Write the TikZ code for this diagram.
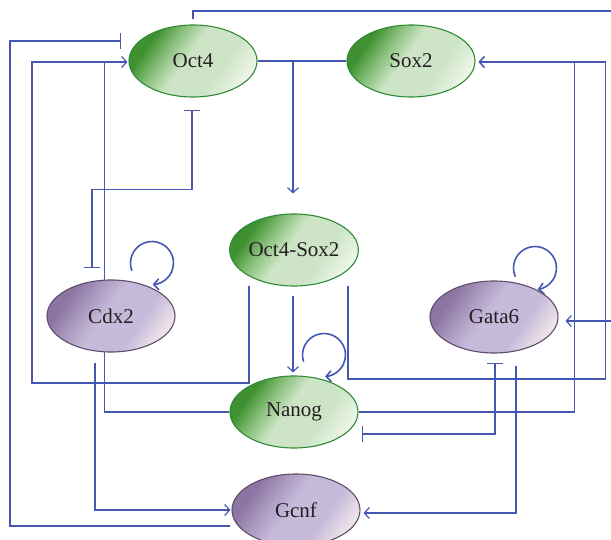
\documentclass[tikz,border=0pt]{standalone}
\usepackage{fontspec}
\setmainfont{Liberation Serif}
\usetikzlibrary{arrows.meta,calc,shapes.geometric,backgrounds}
\definecolor{lineblue}{HTML}{4557B2}
\definecolor{textgray}{HTML}{231F20}
\definecolor{gborder}{HTML}{2E8B34}
\definecolor{gdark}{HTML}{3F9030}
\definecolor{gmid}{HTML}{86BF79}
\definecolor{glight}{HTML}{CDE5C6}
\definecolor{gpale}{HTML}{EEF6EA}
\definecolor{pborder}{HTML}{5E4C68}
\definecolor{pdark}{HTML}{8C75A3}
\definecolor{pmid}{HTML}{A998BE}
\definecolor{plight}{HTML}{C6BADA}
\definecolor{ppale}{HTML}{F0E6EA}
\pgfdeclarehorizontalshading{gshade}{100bp}{color(0bp)=(gdark); color(28bp)=(gdark); color(37bp)=(gmid); color(47bp)=(glight); color(63bp)=(glight); color(76bp)=(gpale); color(100bp)=(gpale)}
\pgfdeclarehorizontalshading{pshade}{100bp}{color(0bp)=(pdark); color(28bp)=(pdark); color(37bp)=(pmid); color(47bp)=(plight); color(63bp)=(plight); color(76bp)=(ppale); color(100bp)=(ppale)}
\tikzset{
  gene/.style={ellipse, minimum width=128pt, minimum height=72pt, inner sep=0pt,
    line width=1.1pt, font=\fontsize{21}{24}\selectfont, text=textgray},
  gnode/.style={gene, draw=gborder, shade, shading=gshade, shading angle=-35},
  pnode/.style={gene, draw=pborder, shade, shading=pshade, shading angle=-35},
  conn/.style={draw=lineblue, line width=1.2pt},
  act/.style={conn, -{Straight Barb[length=5pt,width=11pt]}},
  selfloop/.style={act, line width=1.6pt},
  inh/.style={conn, -{Bar[width=16pt]}},
  inhtwo/.style={conn, {Bar[width=16pt]}-{Bar[width=16pt]}},
}
\begin{document}
\begin{tikzpicture}[x=1pt,y=-1pt]
\useasboundingbox (0,0) rectangle (611,540);
\node[gnode] (oct4) at (193,61) {Oct4};
\node[gnode] (sox2) at (411,61) {Sox2};
\node[gnode] (os) at (294,250) {Oct4-Sox2};
\node[pnode] (cdx2) at (111,316) {Cdx2};
\node[pnode] (gata6) at (494,317) {Gata6};
\node[gnode] (nanog) at (294,412) {Nanog};
\node[pnode] (gcnf) at (296,510) {Gcnf};
\coordinate (topR) at (613,11);
\coordinate (lft) at (10,41);
\coordinate (lft2) at (32,383);
\coordinate (sox2in) at ($(sox2.east)+(3,1)$);
\begin{scope}[on background layer]
% Oct4 -> Gata6 (round the top and right)
\draw[act] ($(oct4.north)+(0,-5)$) |- (topR) |- ($(gata6.east)+(7,4)$);
% Gcnf -| Oct4
\draw[inh] ($(gcnf.west)+(-1,16)$) -| (lft) -- ($(oct4.west)+(-7,-20)$);
% Oct4-Sox2 -> Oct4
\draw[act] ($(os.south)+(-45,-1)$) |- (lft2) |- ($(oct4.west)+(-1,1)$);
% Nanog -> Oct4
\draw[conn] (nanog.west) -| ($(oct4.west)+(-24,1)$);
% Oct4 -| Cdx2
\draw[inhtwo] ($(oct4.south)+(-1,12)$) -- ++(0,80) -| ($(cdx2.north)+(-19,-11)$);
% Oct4 - Sox2 -> Oct4-Sox2
\draw[conn] (oct4.east) -- (sox2.west);
\draw[act] ($(os.north |- oct4.east)+(-1,1)$) -- ($(os.north)+(-1,-20)$);
% Nanog -> Sox2
\draw[act] (nanog.east) -| ($(sox2.east)+(99,1)$) -- (sox2in);
% Oct4-Sox2 -> Sox2
\draw[act] ($(os.south)+(54,-1)$) |- ($(nanog.east)+(247,-33)$) |- (sox2in);
% Oct4-Sox2 -> Nanog
\draw[act] ($(os.south)+(-1,9)$) -- ($(nanog.north)+(-1,-3)$);
% self loops
\draw[selfloop] ($(cdx2.center)+(41,-53)+(159:21.5)$) arc[start angle=159, end angle=448, radius=21.5];
\draw[selfloop] ($(gata6.center)+(41,-49)+(156:21.5)$) arc[start angle=156, end angle=443, radius=21.5];
\draw[selfloop] ($(nanog.center)+(30,-57)+(162:21.5)$) arc[start angle=162, end angle=447, radius=21.5];
% Gata6 -| Nanog
\draw[inhtwo] ($(gata6.south)+(1,9)$) |- ($(nanog.east)+(3,22)$);
% Gata6 -> Gcnf
\draw[act] ($(gata6.south)+(22,12)$) |- ($(gcnf.east)+(3,3)$);
% Cdx2 -> Gcnf
\draw[act] ($(cdx2.south)+(-16,10)$) |- ($(gcnf.west)+(-1,0)$);
\end{scope}
\end{tikzpicture}
\end{document}
